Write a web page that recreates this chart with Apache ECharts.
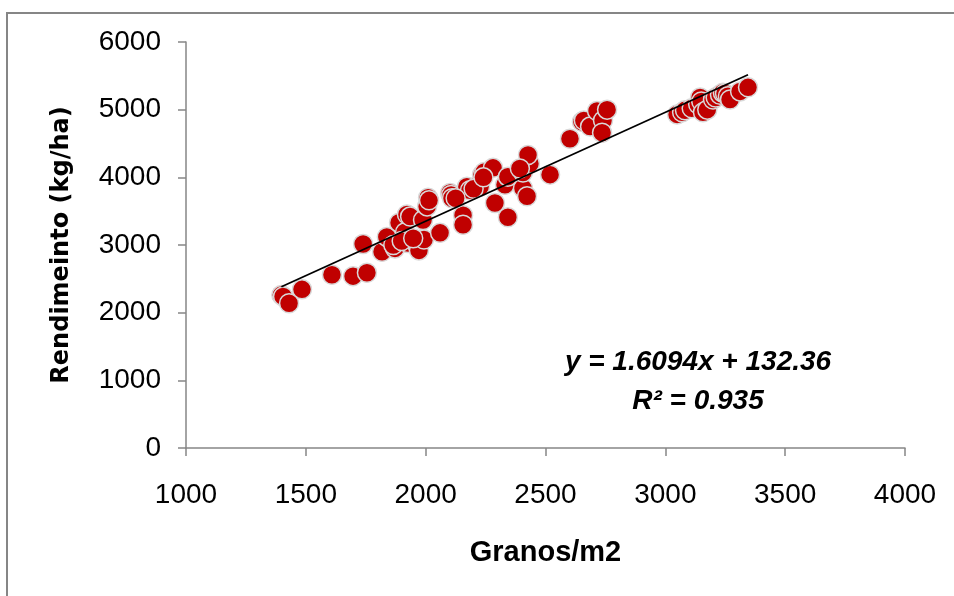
<!DOCTYPE html>
<html>
<head>
<meta charset="utf-8">
<script src="https://cdn.jsdelivr.net/npm/echarts@6/dist/echarts.min.js"></script>
<style>html,body{margin:0;padding:0;background:#fff;}#c{width:954px;height:596px;}</style>
</head>
<body>
<div id="c"></div>
<script>
const xTicks = [1000, 1500, 2000, 2500, 3000, 3500, 4000];
const yTicks = [0, 1000, 2000, 3000, 4000, 5000, 6000];
const granos = [1398,1405,1430,1484,1609,1697,1755,1739,1818,1838,1872,1889,1914,1922,1926,1935,1963,1972,1993,1989,2006,2010,2014,2060,2102,2106,2110,2156,2156,2172,2185,2227,2227,2235,2245,2281,2289,2331,2343,2343,2406,2406,2423,2435,2427,2393,2519,2602,2652,2660,2686,2715,2740,2736,2757,3049,3070,3082,3110,3137,3145,3150,3157,3175,3199,3210,3228,3240,3249,3261,3270,3312,3345,1865,1900,1948,2200,2125,2241];
const rendimiento = [2260,2240,2140,2345,2560,2540,2590,3015,2900,3120,2950,3330,3190,3450,3030,3420,3010,2920,3080,3370,3570,3700,3660,3180,3770,3740,3690,3440,3300,3860,3810,3920,3860,4040,4080,4140,3620,3890,4010,3410,3840,4070,3720,4200,4330,4130,4040,4570,4820,4840,4750,4980,4840,4660,5000,4930,4960,4990,5020,5080,5180,5120,4960,5000,5150,5180,5220,5250,5240,5200,5150,5270,5330,3000,3060,3100,3830,3690,4000];
const slope = 1.6094, intercept = 132.36, r2 = 0.935;

const points = granos.map((g, i) => [g, rendimiento[i]]);
const xMin = Math.min(...granos), xMax = Math.max(...granos);
const trend = [[xMin, slope * xMin + intercept], [xMax, slope * xMax + intercept]];

const chart = echarts.init(document.getElementById('c'));
const font = '"Liberation Sans Narrow", "Liberation Sans", sans-serif';
const eqFont = 'italic bold 28px "Liberation Sans Narrow", "Liberation Sans", sans-serif';
chart.setOption({
  animation: false,
  backgroundColor: '#fff',
  grid: { left: 186, right: 49, top: 42, bottom: 148 },
  xAxis: {
    type: 'value', min: xTicks[0], max: xTicks[xTicks.length - 1], interval: 500,
    name: 'Granos/m2', nameLocation: 'middle', nameGap: 90,
    nameTextStyle: { fontFamily: font, fontSize: 29, fontWeight: 'bold', color: '#000' },
    axisLine: { show: true, lineStyle: { color: '#868686', width: 1.5 } },
    axisTick: { show: true, length: 8, lineStyle: { color: '#868686', width: 1.5 } },
    axisLabel: { fontFamily: font, fontSize: 28, color: '#000', margin: 33, formatter: v => String(v) },
    splitLine: { show: false }
  },
  yAxis: {
    type: 'value', min: yTicks[0], max: yTicks[yTicks.length - 1], interval: 1000,
    name: 'Rendimeinto (kg/ha)', nameLocation: 'middle', nameGap: 112,
    nameTextStyle: { fontFamily: '"DejaVu Sans", sans-serif', fontSize: 24, fontWeight: 'bold', color: '#000' },
    axisLine: { show: true, lineStyle: { color: '#868686', width: 1.5 } },
    axisTick: { show: true, length: 8, lineStyle: { color: '#868686', width: 1.5 } },
    axisLabel: { fontFamily: font, fontSize: 28, color: '#000', margin: 25, formatter: v => String(v) },
    splitLine: { show: false }
  },
  graphic: [
    { type: 'rect', shape: { x: 7, y: 13, width: 1000, height: 700 }, style: { fill: null, stroke: '#868686', lineWidth: 2 }, silent: true, z: -1 },
    { type: 'text', x: 698, y: 362, style: { text: 'y = ' + slope + 'x + ' + intercept, font: eqFont, fill: '#000', textAlign: 'center', textVerticalAlign: 'middle' } },
    { type: 'text', x: 698, y: 401, style: { text: 'R² = ' + r2, font: eqFont, fill: '#000', textAlign: 'center', textVerticalAlign: 'middle' } }
  ],
  series: [
    {
      type: 'scatter', data: points, symbol: 'circle', symbolSize: 19,
      itemStyle: { color: '#C00000', borderColor: '#d9d9d9', borderWidth: 1.5, opacity: 1 },
      z: 2
    },
    {
      type: 'line', data: trend, symbol: 'none', silent: true,
      lineStyle: { color: '#000', width: 1.8 }, z: 3
    }
  ]
});
</script>
</body>
</html>
